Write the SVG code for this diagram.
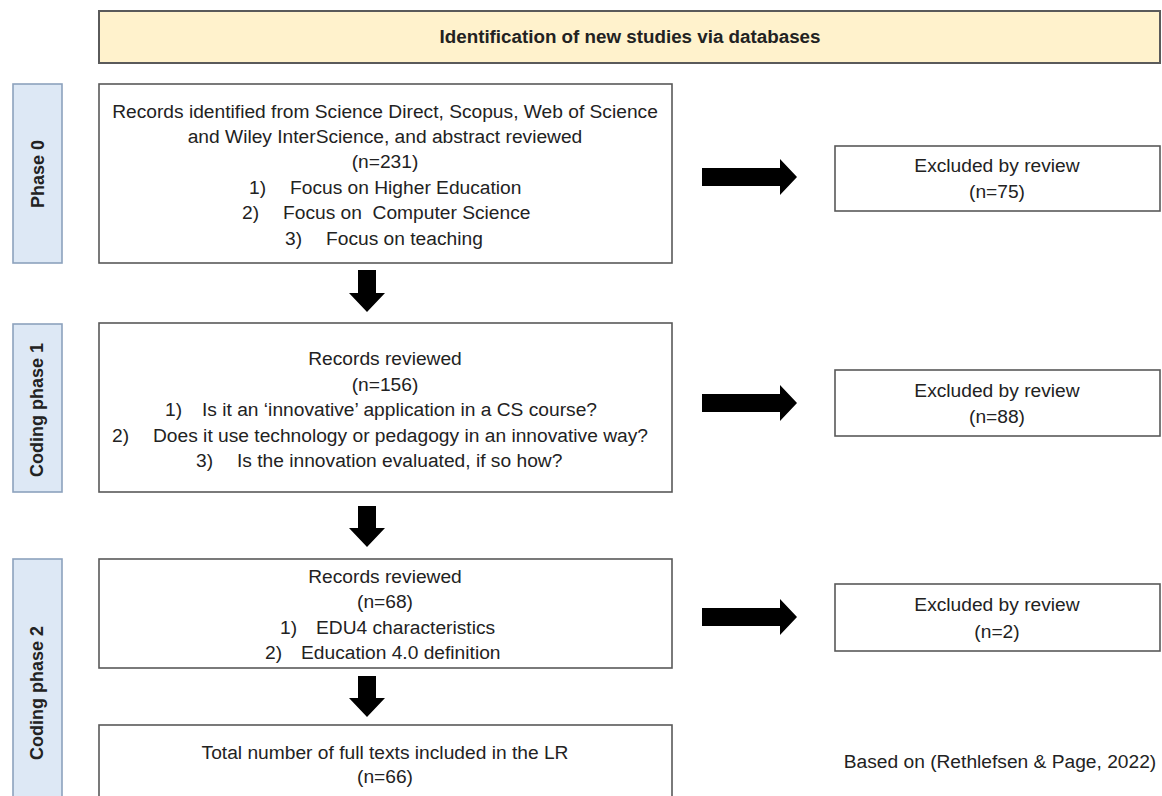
<svg xmlns="http://www.w3.org/2000/svg" width="1162" height="796" viewBox="0 0 1162 796">
<style>
text{font-family:"Liberation Sans",Arial,sans-serif;font-size:19.2px;fill:#222}
.c{text-anchor:middle}
.b{font-weight:bold;font-size:18px}
.h{font-weight:bold;font-size:18.8px}
.box{fill:#fff;stroke:#595959;stroke-width:1.6}
.side{fill:#dde8f5;stroke:#8da2bd;stroke-width:1.6}
.hdr{fill:#fff2cc;stroke:#5a5a5a;stroke-width:2}
.arr{fill:#000}
</style>
<rect width="1162" height="796" fill="#fff"/>
<g id="header">
<rect class="hdr" x="99" y="11" width="1061" height="52"/>
<text class="c h" x="630" y="43">Identification of new studies via databases</text>
</g>
<g id="phase0">
<rect class="side" x="13" y="84" width="49" height="179"/>
<text class="c b" transform="translate(44,174) rotate(-90)">Phase 0</text>
</g>
<g id="phase1">
<rect class="side" x="13" y="324" width="49" height="168"/>
<text class="c b" transform="translate(43,410) rotate(-90)">Coding phase 1</text>
</g>
<g id="phase2">
<rect class="side" x="13" y="559" width="49" height="270"/>
<text class="c b" transform="translate(43,693) rotate(-90)">Coding phase 2</text>
</g>
<g id="records1">
<rect class="box" x="99" y="84" width="573" height="179"/>
<text class="c" x="385" y="118">Records identified from Science Direct, Scopus, Web of Science</text>
<text class="c" x="385" y="143">and Wiley InterScience, and abstract reviewed</text>
<text class="c" x="385" y="168">(n=231)</text>
<text x="249" y="194">1)</text><text x="290" y="194">Focus on Higher Education</text>
<text x="242" y="219">2)</text><text x="283" y="219" xml:space="preserve">Focus on  Computer Science</text>
<text x="285" y="245">3)</text><text x="326" y="245">Focus on teaching</text>
</g>
<g id="records2">
<rect class="box" x="99" y="323" width="573" height="169"/>
<text class="c" x="385" y="365">Records reviewed</text>
<text class="c" x="385" y="391">(n=156)</text>
<text x="165" y="416">1)</text><text x="202" y="416">Is it an ‘innovative’ application in a CS course?</text>
<text x="112" y="442">2)</text><text x="153" y="442">Does it use technology or pedagogy in an innovative way?</text>
<text x="196" y="467">3)</text><text x="237" y="467">Is the innovation evaluated, if so how?</text>
</g>
<g id="records3">
<rect class="box" x="99" y="559" width="573" height="109"/>
<text class="c" x="385" y="583">Records reviewed</text>
<text class="c" x="385" y="608">(n=68)</text>
<text x="280" y="634">1)</text><text x="316" y="634">EDU4 characteristics</text>
<text x="265" y="659">2)</text><text x="301" y="659">Education 4.0 definition</text>
</g>
<g id="total">
<rect class="box" x="99" y="725" width="573" height="104"/>
<text class="c" x="385" y="759">Total number of full texts included in the LR</text>
<text class="c" x="385" y="783">(n=66)</text>
</g>
<g id="excluded1">
<rect class="box" x="835" y="146" width="325" height="65"/>
<text class="c" x="997" y="172">Excluded by review</text>
<text class="c" x="997" y="198">(n=75)</text>
</g>
<g id="excluded2">
<rect class="box" x="835" y="370" width="325" height="66"/>
<text class="c" x="997" y="397">Excluded by review</text>
<text class="c" x="997" y="423">(n=88)</text>
</g>
<g id="excluded3">
<rect class="box" x="835" y="584" width="325" height="67"/>
<text class="c" x="997" y="611">Excluded by review</text>
<text class="c" x="997" y="638">(n=2)</text>
</g>
<g id="note">
<text class="c" x="1000" y="768">Based on (Rethlefsen &amp; Page, 2022)</text>
</g>
<g id="connectors">
<polygon class="arr" points="702,168 780,168 780,159 797,177 780,195 780,186 702,186"/>
<polygon class="arr" points="702,394 780,394 780,385 797,403 780,421 780,412 702,412"/>
<polygon class="arr" points="702,608 780,608 780,599 797,617 780,635 780,626 702,626"/>
<polygon class="arr" points="358,270 376,270 376,293 385,293 367,312 349,293 358,293"/>
<polygon class="arr" points="358,506 376,506 376,528 385,528 367,547 349,528 358,528"/>
<polygon class="arr" points="358,676 376,676 376,698 385,698 367,717 349,698 358,698"/>
</g>
</svg>
